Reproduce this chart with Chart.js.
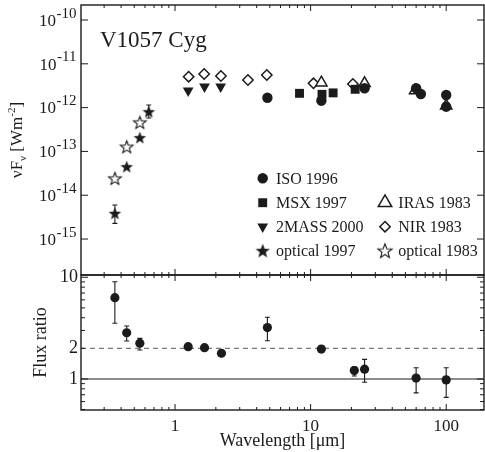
<!DOCTYPE html>
<html>
<head>
<meta charset="utf-8">
<script src="https://cdn.jsdelivr.net/npm/chart.js@4/dist/chart.umd.min.js"></script>
<style>
  html, body { margin: 0; padding: 0; background: #fff; overflow: hidden; }
  #wrap { position: relative; width: 485px; height: 452px; }
  #wrap canvas { position: absolute; left: 0; top: 0; }
</style>
</head>
<body>
<div id="wrap">
  <canvas id="sed" width="485" height="452"></canvas>
  <canvas id="ratio" width="485" height="452"></canvas>
</div>
<script>
// wavelengths in micron, fluxes nuFnu in W m^-2
const isoWave = [4.8, 12, 25, 60, 65, 100, 100];
const isoFlux = [1.68e-12, 1.44e-12, 2.76e-12, 2.76e-12, 2.05e-12, 1.94e-12, 1.05e-12];
const msxWave = [8.28, 12.13, 14.65, 21.3];
const msxFlux = [2.12e-12, 2.01e-12, 2.17e-12, 2.62e-12];
const tmassWave = [1.25, 1.65, 2.17];
const tmassFlux = [2.43e-12, 3.0e-12, 3.0e-12];
const opt97Wave = [0.36, 0.44, 0.55, 0.64];
const opt97Flux = [3.86e-15, 4.48e-14, 2.06e-13, 8.05e-13];
const opt97Lo = [2.28e-15, null, null, 5.8e-13];
const opt97Hi = [5.97e-15, null, null, 1.15e-12];
const irasWave = [12, 25, 59, 100];
const irasFlux = [3.7e-12, 3.59e-12, 2.45e-12, 1.1e-12];
const nirWave = [1.26, 1.64, 2.18, 3.45, 4.75, 10.5, 20.5];
const nirFlux = [5.08e-12, 5.85e-12, 5.26e-12, 4.27e-12, 5.55e-12, 3.59e-12, 3.46e-12];
const opt83Wave = [0.36, 0.44, 0.55];
const opt83Flux = [2.43e-14, 1.28e-13, 4.61e-13];

// flux ratio (lower panel)
const ratioWave = [0.36, 0.44, 0.55, 1.25, 1.65, 2.2, 4.8, 12, 21, 25, 60, 100];
const ratioVal = [6.3, 2.85, 2.24, 2.08, 2.03, 1.79, 3.2, 1.97, 1.21, 1.25, 1.02, 0.98];
const ratioLo = [3.53, 2.36, 1.93, null, null, null, 2.38, null, 1.07, 0.93, 0.73, 0.66];
const ratioHi = [9.05, 3.32, 2.51, null, null, null, 4.04, null, 1.32, 1.56, 1.29, 1.29];
const ratioDashLevel = 2;
const ratioSolidLevel = 1;

// ticks
const waveRange = [0.2025, 190];
const waveMajor = [1, 10, 100];
const waveMinor = [0.3, 0.4, 0.5, 0.6, 0.7, 0.8, 0.9, 2, 3, 4, 5, 6, 7, 8, 9, 20, 30, 40, 50, 60, 70, 80, 90];
const fluxRange = [1.51e-16, 2.2e-10];
const fluxMajor = [1e-10, 1e-11, 1e-12, 1e-13, 1e-14, 1e-15];
const ratioRange = [0.4955, 10.53];
const ratioLabels = [1, 2, 10];
const ratioMajor = [1, 10];
const ratioMinor = [0.5, 0.6, 0.7, 0.8, 0.9, 2, 3, 4, 5, 6, 7, 8, 9];

const serif = '"Liberation Serif", "DejaVu Serif", serif';
const ink = '#1b1b1b';

const pts = (xs, ys) => xs.map((v, i) => ({x: v, y: ys[i]}));

function starImage(filled, outer) {
  const s = Math.ceil(outer * 2 + 3);
  const c = document.createElement('canvas');
  c.width = s; c.height = s;
  const g = c.getContext('2d');
  g.beginPath();
  for (let i = 0; i < 10; i++) {
    const r = i % 2 ? outer * 0.42 : outer;
    const a = -Math.PI / 2 + i * Math.PI / 5;
    g.lineTo(s / 2 + r * Math.cos(a), s / 2 + 0.6 + r * Math.sin(a));
  }
  g.closePath();
  if (filled) {
    g.fillStyle = ink; g.fill();
  } else {
    g.fillStyle = '#fff'; g.fill();
    g.strokeStyle = ink; g.lineWidth = 1.1; g.stroke();
  }
  return c;
}
const starFilled = starImage(true, 6.6);
const starOpen = starImage(false, 6.6);
const starFilledBig = starImage(true, 7.5);
const starOpenBig = starImage(false, 7.5);

// frame with inward ticks on all four sides
const frameTicks = {
  id: 'frameTicks',
  afterDraw(chart, args, opts) {
    const {ctx, chartArea: a, scales: {x, y}} = chart;
    ctx.save();
    ctx.strokeStyle = ink;
    ctx.lineWidth = 1;
    const tick = (px, py, dx, dy) => {
      ctx.beginPath(); ctx.moveTo(px, py); ctx.lineTo(px + dx, py + dy); ctx.stroke();
    };
    waveMajor.forEach(v => { const p = x.getPixelForValue(v); tick(p, a.top, 0, 6); tick(p, a.bottom, 0, -6); });
    waveMinor.forEach(v => { const p = x.getPixelForValue(v); tick(p, a.top, 0, 3); tick(p, a.bottom, 0, -3); });
    opts.yMajor.forEach(v => { const p = y.getPixelForValue(v); tick(a.left, p, 7, 0); tick(a.right, p, -7, 0); });
    (opts.yMinor || []).forEach(v => { const p = y.getPixelForValue(v); tick(a.left, p, 4, 0); tick(a.right, p, -4, 0); });
    ctx.lineWidth = 1.4;
    ctx.strokeRect(a.left, a.top, a.right - a.left, a.bottom - a.top);
    ctx.restore();
  }
};

const errorBars = {
  id: 'errorBars',
  beforeDatasetsDraw(chart) {
    const {ctx, scales: {x, y}} = chart;
    ctx.save();
    ctx.strokeStyle = ink;
    ctx.lineWidth = 1.1;
    chart.data.datasets.forEach(ds => {
      if (!ds.errLo) return;
      ds.data.forEach((pt, i) => {
        if (ds.errLo[i] == null) return;
        const px = x.getPixelForValue(pt.x);
        const lo = y.getPixelForValue(ds.errLo[i]);
        const hi = y.getPixelForValue(ds.errHi[i]);
        ctx.beginPath();
        ctx.moveTo(px, lo); ctx.lineTo(px, hi);
        ctx.moveTo(px - 2.5, lo); ctx.lineTo(px + 2.5, lo);
        ctx.moveTo(px - 2.5, hi); ctx.lineTo(px + 2.5, hi);
        ctx.stroke();
      });
    });
    ctx.restore();
  }
};

// text of the upper panel: object name, y title, 10^n labels, legend
const sedText = {
  id: 'sedText',
  afterDraw(chart, args, opts) {
    const {ctx, chartArea: a, scales: {y}} = chart;
    ctx.save();
    ctx.fillStyle = ink;
    ctx.textBaseline = 'alphabetic';
    ctx.textAlign = 'left';

    ctx.font = `23px ${serif}`;
    ctx.fillText('V1057 Cyg', 100, 46.5);

    // y tick labels 10^-n
    fluxMajor.forEach(v => {
      const p = y.getPixelForValue(v);
      const sup = '-' + Math.abs(Math.round(Math.log10(v)));
      ctx.font = `15px ${serif}`;
      const ws = ctx.measureText(sup).width;
      const right = a.left - 4.5;
      ctx.fillText(sup, right - ws, p - 2.5);
      ctx.font = `17px ${serif}`;
      const wb = ctx.measureText('10').width;
      ctx.fillText('10', right - ws - wb - 0.5, p + 5.7);
    });

    // y axis title, rotated, with sub/superscripts
    const runs = [
      {t: '\u03BDF', size: 17, dy: 0},
      {t: '\u03BD', size: 11, dy: 3.5},
      {t: ' [Wm', size: 17, dy: 0},
      {t: '-2', size: 11, dy: -7},
      {t: ']', size: 17, dy: 0}
    ];
    let total = 0;
    runs.forEach(r => { ctx.font = `${r.size}px ${serif}`; r.w = ctx.measureText(r.t).width; total += r.w; });
    ctx.translate(22, (a.top + a.bottom) / 2);
    ctx.rotate(-Math.PI / 2);
    let cx = -total / 2;
    runs.forEach(r => { ctx.font = `${r.size}px ${serif}`; ctx.fillText(r.t, cx, r.dy); cx += r.w; });
    ctx.setTransform(1, 0, 0, 1, 0, 0);

    // legend
    ctx.font = `16px ${serif}`;
    ctx.textBaseline = 'middle';
    opts.slots.forEach(s => {
      const ds = chart.data.datasets[s.index];
      const mx = opts.colX[s.col];
      const my = opts.rowY[s.row];
      if (s.image) {
        ctx.drawImage(s.image, mx - s.image.width / 2, my - s.image.height / 2);
      } else {
        ctx.fillStyle = ds.backgroundColor;
        ctx.strokeStyle = ds.borderColor;
        ctx.lineWidth = ds.borderWidth;
        Chart.helpers.drawPoint(ctx, {
          pointStyle: ds.pointStyle,
          radius: s.radius || ds.pointRadius,
          rotation: ds.pointRotation || 0,
          borderWidth: ds.borderWidth
        }, mx, my);
      }
      ctx.fillStyle = ink;
      ctx.fillText(ds.label, mx + 13.3, my + 1);
    });
    ctx.restore();
  }
};

new Chart(document.getElementById('sed').getContext('2d'), {
  type: 'scatter',
  data: {
    datasets: [{
      label: 'ISO 1996',
      data: pts(isoWave, isoFlux),
      pointStyle: 'circle', pointRadius: 5.2,
      backgroundColor: ink, borderColor: ink, borderWidth: 0
    }, {
      label: 'MSX 1997',
      data: pts(msxWave, msxFlux),
      pointStyle: 'rect', pointRadius: 6.3,
      backgroundColor: ink, borderColor: ink, borderWidth: 0
    }, {
      label: '2MASS 2000',
      data: pts(tmassWave, tmassFlux),
      pointStyle: 'triangle', pointRadius: 6.2, pointRotation: 180,
      backgroundColor: ink, borderColor: ink, borderWidth: 0
    }, {
      label: 'optical 1997',
      data: pts(opt97Wave, opt97Flux),
      errLo: opt97Lo, errHi: opt97Hi,
      pointStyle: starFilled, pointRadius: 6,
      backgroundColor: ink, borderColor: ink, borderWidth: 0
    }, {
      label: 'IRAS 1983',
      data: pts(irasWave, irasFlux),
      pointStyle: 'triangle', pointRadius: 6.5,
      backgroundColor: '#fff', borderColor: ink, borderWidth: 1.5
    }, {
      label: 'NIR 1983',
      data: pts(nirWave, nirFlux),
      pointStyle: 'rectRot', pointRadius: 5.2,
      backgroundColor: '#fff', borderColor: ink, borderWidth: 1.5
    }, {
      label: 'optical 1983',
      data: pts(opt83Wave, opt83Flux),
      pointStyle: starOpen, pointRadius: 6,
      backgroundColor: '#fff', borderColor: ink, borderWidth: 1
    }]
  },
  options: {
    responsive: false,
    animation: false,
    layout: { autoPadding: false, padding: { left: 81, top: 5, right: 1, bottom: 177 } },
    scales: {
      x: { type: 'logarithmic', display: false, min: waveRange[0], max: waveRange[1] },
      y: { type: 'logarithmic', display: false, min: fluxRange[0], max: fluxRange[1] }
    },
    plugins: {
      legend: { display: false },
      tooltip: { enabled: false },
      frameTicks: { yMajor: fluxMajor },
      sedText: {
        colX: [262.7, 385],
        rowY: [178.3, 202.7, 226.7, 250.7],
        slots: [
          {index: 0, col: 0, row: 0},
          {index: 1, col: 0, row: 1},
          {index: 2, col: 0, row: 2},
          {index: 3, col: 0, row: 3, image: starFilledBig},
          {index: 4, col: 1, row: 1, radius: 7.8},
          {index: 5, col: 1, row: 2},
          {index: 6, col: 1, row: 3, image: starOpenBig}
        ]
      }
    }
  },
  plugins: [errorBars, frameTicks, sedText]
});

new Chart(document.getElementById('ratio').getContext('2d'), {
  type: 'scatter',
  data: {
    datasets: [{
      label: 'Flux ratio',
      data: pts(ratioWave, ratioVal),
      errLo: ratioLo, errHi: ratioHi,
      pointStyle: 'circle', pointRadius: 4.6,
      backgroundColor: ink, borderColor: ink, borderWidth: 0
    }, {
      label: 'ratio 2',
      data: [{x: waveRange[0], y: ratioDashLevel}, {x: waveRange[1], y: ratioDashLevel}],
      showLine: true, pointRadius: 0,
      borderColor: '#7a7a7a', borderWidth: 1.3, borderDash: [5, 4]
    }, {
      label: 'ratio 1',
      data: [{x: waveRange[0], y: ratioSolidLevel}, {x: waveRange[1], y: ratioSolidLevel}],
      showLine: true, pointRadius: 0,
      borderColor: ink, borderWidth: 1.1
    }]
  },
  options: {
    responsive: false,
    animation: false,
    layout: { autoPadding: false, padding: { left: 0, top: 275, right: 1, bottom: 0 } },
    scales: {
      x: {
        type: 'logarithmic', min: waveRange[0], max: waveRange[1],
        afterBuildTicks: s => { s.ticks = waveMajor.map(v => ({value: v})); },
        afterFit: s => { s.height = 42; },
        grid: { display: false, drawTicks: false },
        border: { display: false },
        ticks: {
          autoSkip: false, maxRotation: 0, padding: 6, color: ink,
          font: { family: serif, size: 17 },
          callback: v => String(v)
        },
        title: {
          display: true, text: 'Wavelength [\u03BCm]', color: ink,
          font: { family: serif, size: 18 }, padding: { top: 0, bottom: 0 }
        }
      },
      y: {
        type: 'logarithmic', min: ratioRange[0], max: ratioRange[1],
        afterBuildTicks: s => { s.ticks = ratioLabels.map(v => ({value: v})); },
        afterFit: s => { s.width = 81; },
        grid: { display: false, drawTicks: false },
        border: { display: false },
        ticks: {
          autoSkip: false, padding: 3, color: ink,
          font: { family: serif, size: 18 },
          callback: v => String(v)
        },
        title: {
          display: true, text: 'Flux ratio', color: ink,
          font: { family: serif, size: 18 }, padding: { top: 30, bottom: 0 }
        }
      }
    },
    plugins: {
      legend: { display: false },
      tooltip: { enabled: false },
      frameTicks: { yMajor: ratioMajor, yMinor: ratioMinor }
    }
  },
  plugins: [errorBars, frameTicks]
});
</script>
</body>
</html>
